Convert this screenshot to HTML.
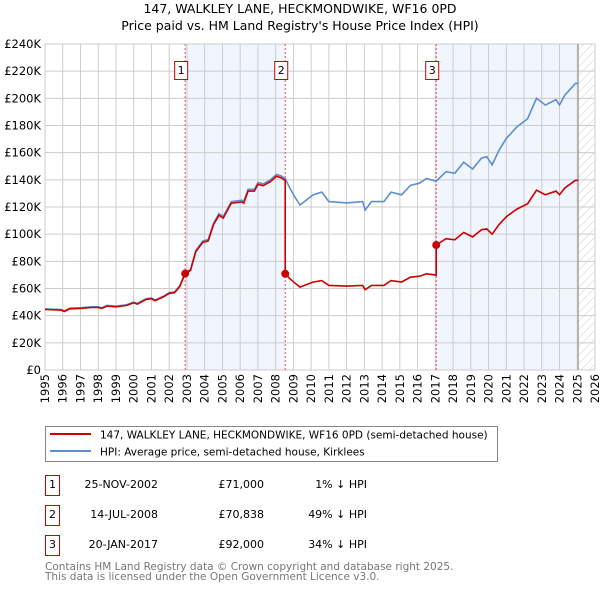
<!DOCTYPE html>
<html><head><meta charset="utf-8"><style>
body{margin:0;background:#fff;}
svg{display:block;font-family:"DejaVu Sans","Liberation Sans",sans-serif;}
</style></head><body>
<svg id="chart" width="600" height="590" xmlns="http://www.w3.org/2000/svg">
<defs>
<pattern id="hatch" width="6" height="6" patternUnits="userSpaceOnUse" patternTransform="rotate(45)">
<line x1="0" y1="0" x2="0" y2="6" stroke="#ccc" stroke-width="1"/></pattern>
</defs>
<text x="300" y="13" text-anchor="middle" font-size="12.5">147, WALKLEY LANE, HECKMONDWIKE, WF16 0PD</text>
<text x="300" y="30" text-anchor="middle" font-size="12.5">Price paid vs. HM Land Registry's House Price Index (HPI)</text>
<g id="plot"></g>
<g>
<rect x="45.5" y="426.5" width="452" height="35" fill="#fff" stroke="#888"/>
<line x1="50" y1="434" x2="91" y2="434" stroke="#cc0000" stroke-width="2"/>
<text x="100" y="438.5" font-size="10.5">147, WALKLEY LANE, HECKMONDWIKE, WF16 0PD (semi-detached house)</text>
<line x1="50" y1="451" x2="91" y2="451" stroke="#5b8fd0" stroke-width="2"/>
<text x="100" y="455.5" font-size="10.5">HPI: Average price, semi-detached house, Kirklees</text>
</g>
<g font-size="11">
<rect x="45.5" y="475.5" width="14" height="20" fill="#fff" stroke="#cc0000"/>
<text x="52.5" y="488" text-anchor="middle">1</text>
<text x="158" y="488" text-anchor="end">25-NOV-2002</text>
<text x="264" y="488" text-anchor="end">£71,000</text>
<text x="367" y="488" text-anchor="end">1% ↓ HPI</text>
<rect x="45.5" y="505.5" width="14" height="20" fill="#fff" stroke="#cc0000"/>
<text x="52.5" y="518" text-anchor="middle">2</text>
<text x="158" y="518" text-anchor="end">14-JUL-2008</text>
<text x="264" y="518" text-anchor="end">£70,838</text>
<text x="367" y="518" text-anchor="end">49% ↓ HPI</text>
<rect x="45.5" y="535.5" width="14" height="20" fill="#fff" stroke="#cc0000"/>
<text x="52.5" y="548" text-anchor="middle">3</text>
<text x="158" y="548" text-anchor="end">20-JAN-2017</text>
<text x="264" y="548" text-anchor="end">£92,000</text>
<text x="367" y="548" text-anchor="end">34% ↓ HPI</text>
</g>
<text x="45" y="570" font-size="10.5" fill="#777">Contains HM Land Registry data © Crown copyright and database right 2025.</text>
<text x="45" y="580" font-size="10.5" fill="#777">This data is licensed under the Open Government Licence v3.0.</text>
</svg>
<script>
const yTicks=[0,20,40,60,80,100,120,140,160,180,200,220,240];
const yTickLabels=["£0","£20K","£40K","£60K","£80K","£100K","£120K","£140K","£160K","£180K","£200K","£220K","£240K"];
const xYears=[1995,1996,1997,1998,1999,2000,2001,2002,2003,2004,2005,2006,2007,2008,2009,2010,2011,2012,2013,2014,2015,2016,2017,2018,2019,2020,2021,2022,2023,2024,2025,2026];
const hpiDates=[1995.0,1995.9,1996.1,1996.4,1997.0,1997.6,1998.0,1998.2,1998.5,1999.0,1999.6,2000.0,2000.2,2000.7,2001.0,2001.2,2001.7,2002.0,2002.3,2002.6,2002.9,2003.2,2003.5,2003.9,2004.2,2004.5,2004.8,2005.05,2005.5,2006.1,2006.2,2006.45,2006.8,2007.0,2007.3,2007.7,2008.05,2008.3,2008.54,2008.8,2009.1,2009.37,2010.1,2010.6,2011.0,2012.0,2012.9,2013.05,2013.4,2014.1,2014.5,2015.1,2015.6,2016.1,2016.5,2017.05,2017.6,2018.1,2018.6,2019.1,2019.6,2019.9,2020.2,2020.6,2021.0,2021.6,2022.2,2022.7,2023.2,2023.8,2024.0,2024.3,2024.9,2025.05];
const hpiValues=[45,44.5,43.5,45.5,45.8,46.5,46.5,45.8,47.5,47,48,50,49,52.5,53,51.5,54.5,57,57.5,62,71.7,74,88,95,96,108,115,113,124,125,124,133,133,138,137,140,144,143,141,134,127,121.5,128.8,131,124,123,124,117.8,124,124,131,129,136,137.5,141,139,146,144.8,153,148,156,157,151,162,170.5,179,185,200,195,199,195,202.4,211,211];
const saleDates=[2002.9,2008.54,2017.05];
const salePrices=[71,70.838,92];
const saleLabels=["1","2","3"];

const X0=45,X1=595,Y0=370,Y1=44;
const xs=y=>X0+(y-1995)/(2026-1995)*(X1-X0);
const ys=v=>Y0-v/240*(Y0-Y1);
const NS="http://www.w3.org/2000/svg";
const plot=document.getElementById('plot');
function mk(t,a){const e=document.createElementNS(NS,t);for(const k in a)e.setAttribute(k,a[k]);plot.appendChild(e);return e;}
function hpiAt(d){for(let i=1;i<hpiDates.length;i++){if(d<=hpiDates[i]){const t=(d-hpiDates[i-1])/(hpiDates[i]-hpiDates[i-1]);return hpiValues[i-1]+t*(hpiValues[i]-hpiValues[i-1]);}}return hpiValues[hpiValues.length-1];}

// shaded ownership periods (alternating)
for(let i=0;i<saleDates.length;i+=2){
  const end=i+1<saleDates.length?saleDates[i+1]:hpiDates[hpiDates.length-1];
  const r=mk('rect',{x:xs(saleDates[i]),y:Y1,width:xs(end)-xs(saleDates[i]),height:Y0-Y1,fill:'#eef3fc',opacity:0.8});
  
  
}
const hx=xs(hpiDates[hpiDates.length-1]);
const hr=mk('rect',{x:hx,y:Y1,width:X1-hx,height:Y0-Y1,fill:'url(#hatch)'});


xYears.forEach(y=>{
  const l=mk('line',{x1:xs(y),x2:xs(y),y1:Y1,y2:Y0,stroke:'#ccc','stroke-width':1});
  
  
  const t=mk('text',{x:0,y:0,'font-size':11.5,'text-anchor':'end',transform:`translate(${xs(y)+4},${Y0+4}) rotate(-90)`});
  t.textContent=y;
  
  
});
yTicks.forEach((v,i)=>{
  const l=mk('line',{x1:X0,x2:X1,y1:ys(v),y2:ys(v),stroke:'#ccc','stroke-width':1});
  
  
  const t=mk('text',{x:X0-4,y:ys(v)+4,'font-size':11.5,'text-anchor':'end'});
  t.textContent=yTickLabels[i];
  
  
});
const vl=mk('line',{x1:hx,x2:hx,y1:Y1,y2:Y0,stroke:'#999','stroke-width':1.2});


saleDates.forEach((d,i)=>{
  const l=mk('line',{x1:xs(d),x2:xs(d),y1:Y1,y2:Y0,stroke:'#e05050','stroke-width':1,'stroke-dasharray':'2,2'});
  
  
  const b=mk('rect',{x:xs(d)-10.5,y:61.5,width:13,height:18,fill:'#fff',stroke:'#cc0000'});
  
  
  const t=mk('text',{x:xs(d)-4,y:74,'font-size':11,'text-anchor':'middle'});
  t.textContent=saleLabels[i];
  
  
});
const hp=mk('path',{d:hpiDates.map((d,i)=>(i?'L':'M')+xs(d).toFixed(1)+','+ys(hpiValues[i]).toFixed(1)).join(''),fill:'none',stroke:'#5b8fd0','stroke-width':1.6});


let pts=[];
hpiDates.forEach((d,i)=>{
  let k=-1;for(let j=0;j<saleDates.length;j++)if(d>=saleDates[j])k=j;
  const f=k<0?salePrices[0]/hpiAt(saleDates[0]):salePrices[k]/hpiAt(saleDates[k]);
  pts.push([d,hpiValues[i]*f]);
});
saleDates.forEach((d,j)=>{
  const prev=j===0?salePrices[0]:hpiAt(d)*salePrices[j-1]/hpiAt(saleDates[j-1]);
  pts.push([d-0.0001,prev]);pts.push([d,salePrices[j]]);
});
pts.sort((a,b)=>a[0]-b[0]);
const pp=mk('path',{d:pts.map((p,i)=>(i?'L':'M')+xs(p[0]).toFixed(1)+','+ys(p[1]).toFixed(1)).join(''),fill:'none',stroke:'#cc0000','stroke-width':1.6});


saleDates.forEach((d,i)=>{
  const c=mk('circle',{cx:xs(d),cy:ys(salePrices[i]),r:4,fill:'#cc0000'});
  
  
});
</script>
</body></html>
